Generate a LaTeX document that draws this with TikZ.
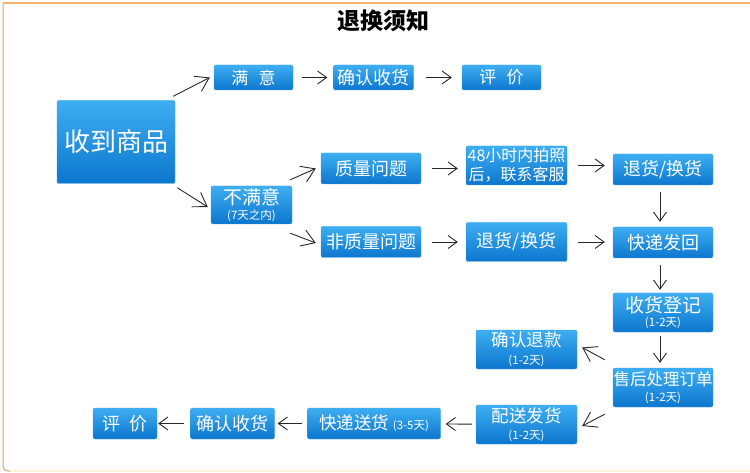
\documentclass[tikz,border=0pt]{standalone}
\usepackage{fontspec}
\setmainfont{Noto Sans CJK SC}
\usetikzlibrary{positioning, arrows.meta}

\definecolor{boxtop}{RGB}{62,174,242}
\definecolor{boxbot}{RGB}{12,118,206}
\definecolor{boxline}{RGB}{60,160,228}
\definecolor{arrowgray}{RGB}{40,40,40}
\definecolor{frametop}{RGB}{245,178,105}
\definecolor{frameleft}{RGB}{215,165,105}
\definecolor{framebot}{RGB}{252,244,215}

\newcommand{\daynote}[1]{{\fontsize{11.5}{12}\selectfont #1}}
\newcommand{\fsz}[1]{\fontsize{#1}{#1}\selectfont}

\begin{document}
\begin{tikzpicture}[x=1pt, y=-1pt, on grid,
box/.style ={rectangle, rounded corners=2pt, draw=boxline, top color=boxtop, bottom color=boxbot,
  text=white, font=\fsz{18}, inner sep=0pt, align=center,
  minimum width=100pt, minimum height=31pt},
arr/.style ={draw=arrowgray, line width=0.9pt, -{Straight Barb[length=9pt,width=13pt]},
  shorten <=9pt, shorten >=6pt},
diag/.style ={draw=arrowgray, line width=0.9pt, -{Straight Barb[length=13pt,width=17pt]}}]
\useasboundingbox (0,0) rectangle (750,473);

% frame
\draw[frameleft, line width=1pt, rounded corners=5pt] (3,3) -- (3,471) -- (12,471);
\draw[framebot, line width=1.5pt] (10,471) -- (750,471);
\draw[frametop, line width=2pt] (3,3) -- (750,3);

\node[font=\fsz{23}\bfseries] (title) at (383,21) {退换须知};

\node[box, minimum width=118pt, minimum height=83pt, font=\fsz{26}] (recv) at (116,142) {收到商品};

% satisfied
\node[box, minimum width=79pt, minimum height=25pt, font=\fsz{17}] (sat) at (253.5,77.5) {满\hspace{0.6em}意};
\node[box, minimum width=80pt, minimum height=25pt] (conf1) [right = 120pt of sat] {确认收货};
\node[box, minimum width=79pt, minimum height=25pt, font=\fsz{17}] (eval1) [right = 128pt of conf1] {评\hspace{0.6em}价};

% not satisfied
\node[box, minimum width=81pt, minimum height=38pt, font=\fsz{19}] (unsat) at (251.5,205) {不满意\\[-4pt]\daynote{(7天之内)}};
\node[box] (qual) at (371,168.5) {质量问题};
\node[box, minimum width=101pt, minimum height=39pt, font=\fontsize{16}{19}\selectfont] (photo) at (516.5,165.5) {48小时内拍照\\后，联系客服};
\node[box] (nonq) at (371,242) {非质量问题};
\node[box, minimum width=101pt, minimum height=39pt] (ret2) [right = 145.5pt of nonq] {退货/换货};
\node[box] (back) at (663,242.5) {快递发回};
\node[box] (ret1) [above = 73pt of back] {退货/换货};
\node[box, minimum height=39pt, font=\fsz{19}] (reg) [below = 70pt of back] {收货登记\\[-5pt]\daynote{(1-2天)}};
\node[box, minimum height=39pt, font=\fsz{16.5}] (proc) [below = 75pt of reg] {售后处理订单\\[-1pt]\daynote{(1-2天)}};
\node[box, minimum width=101pt, minimum height=39pt, font=\fsz{17.5}] (refund) at (526.5,349.5) {确认退款\\[0pt]\daynote{(1-2天)}};
\node[box, minimum width=101pt, minimum height=39pt, font=\fsz{17.5}] (ship) [below = 75pt of refund] {配送发货\\[0pt]\daynote{(1-2天)}};
\node[box, minimum width=133pt, font=\fsz{17.5}] (deliv) at (374,423.5) {快递送货 \daynote{(3-5天)}};
\node[box, minimum width=84pt] (conf2) [left = 141.5pt of deliv] {确认收货};
\node[box, minimum width=64pt] (eval2) [left = 107.5pt of conf2] {评\hspace{0.5em}价};

% connectors
\draw[diag] ([shift={(-2,-4)}]recv.north east) -- ([xshift=-4pt]sat.west);
\draw[diag] ([shift={(2,4)}]recv.south east) -- ([shift={(-3,2)}]unsat.west);
\draw[diag] ([shift={(-2,-6)}]unsat.north east) -- ([xshift=-5pt]qual.west);
\draw[diag] ([shift={(-2,9)}]unsat.south east) -- ([shift={(-5,1)}]nonq.west);
\draw[diag] ([shift={(-8,-8)}]proc.north west) -- ([shift={(5,-2)}]refund.east);
\draw[diag] ([shift={(-8,7)}]proc.south west) -- ([shift={(5,1.5)}]ship.east);

\draw[arr] (sat) -- (conf1);
\draw[arr, shorten <=12pt, shorten >=10pt] (conf1) -- (eval1);
\draw[arr, shorten <=11pt, shorten >=8pt] (qual.east) -- (qual.east -| photo.west);
\draw[arr, shorten <=11pt, shorten >=8pt] (photo) -- (photo -| ret1.west);
\draw[arr, shorten <=11pt, shorten >=8pt] (nonq) -- (ret2);
\draw[arr, shorten <=11pt, shorten >=8pt] (ret2) -- (ret2 -| back.west);
\draw[arr, shorten <=7pt, shorten >=5pt] ([xshift=-3pt]ret1.south) -- ([xshift=-3pt]back.north);
\draw[arr, shorten <=7pt, shorten >=3pt] ([xshift=-3pt]back.south) -- ([xshift=-3pt]reg.north);
\draw[arr, shorten <=4pt, shorten >=5pt] ([xshift=-3pt]reg.south) -- ([xshift=-3pt]proc.north);
\draw[arr, shorten <=4pt, shorten >=5pt] (ship) -- (deliv);
\draw[arr, shorten <=5pt, shorten >=3pt] (deliv) -- (conf2);
\draw[arr, shorten <=6pt, shorten >=1pt] (conf2) -- (eval2);
\end{tikzpicture}
\end{document}
